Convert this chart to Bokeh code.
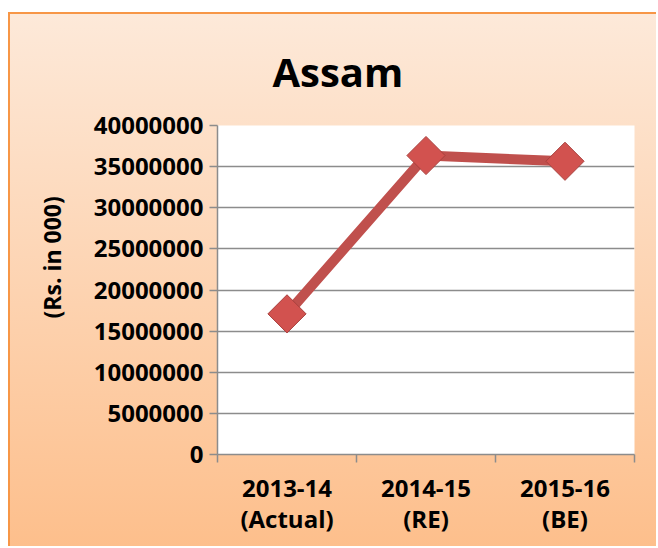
import math
from bokeh.plotting import figure
from bokeh.models import Range1d, FixedTicker, SingleIntervalTicker, NumeralTickFormatter, Title
from bokeh.embed import file_html
from bokeh.resources import INLINE

# ---- data ----
categories = ["2013-14\n(Actual)", "2014-15\n(RE)", "2015-16\n(BE)"]
values = [17100000, 36350000, 35650000]
title_text = "Assam"
y_title = "(Rs. in 000)"

xs = [i + 0.5 for i in range(len(categories))]

FONT = "Open Sans"
GRID = "#8c8c8c"

p = figure(width=648, height=534, output_backend="svg", toolbar_location=None,
           x_range=Range1d(0, len(categories)), y_range=Range1d(0, 40000000),
           min_border_left=205, min_border_right=24, min_border_top=111, min_border_bottom=94)
p.title.text = title_text
p.title.align = "left"
p.title.offset = 55
p.title.standoff = 54
p.title.text_font = FONT
p.title.text_font_style = "bold"
p.title.text_font_size = "40px"
p.title.text_color = "black"

p.border_fill_alpha = 0
p.background_fill_color = "white"
p.outline_line_color = None
p.styles = {
    "margin-top": "12px",
    "margin-left": "8px",
    "border-top": "2px solid #f79646",
    "border-left": "2px solid #f79646",
    "background": "linear-gradient(to bottom, #FDE9D9 0%, #FDBF8C 100%)",
}

# y axis
yax = p.yaxis[0]
yax.ticker = SingleIntervalTicker(interval=5000000, num_minor_ticks=0)
yax.formatter = NumeralTickFormatter(format="0")
yax.major_label_text_font = FONT
yax.major_label_text_font_style = "bold"
yax.major_label_text_font_size = "24px"
yax.major_label_text_color = "black"
yax.axis_line_color = GRID
yax.axis_line_width = 1.5
yax.major_tick_line_color = GRID
yax.major_tick_line_width = 1.5
yax.major_tick_in = 0
yax.major_tick_out = 8
yax.minor_tick_line_color = None
yax.major_label_standoff = 6

p.ygrid.grid_line_color = GRID
p.ygrid.grid_line_width = 1.5
p.ygrid.ticker = yax.ticker
p.xgrid.visible = False

# x axis
xax = p.xaxis[0]
xax.ticker = FixedTicker(ticks=xs, minor_ticks=list(range(len(categories) + 1)))
xax.major_label_overrides = {x: c for x, c in zip(xs, categories)}
xax.major_label_text_font = FONT
xax.major_label_text_font_style = "bold"
xax.major_label_text_font_size = "24px"
xax.major_label_text_color = "black"
xax.major_label_text_line_height = 0.95
xax.axis_line_color = GRID
xax.axis_line_width = 1.5
xax.major_tick_line_color = None
xax.major_tick_in = 0
xax.major_tick_out = 0
xax.minor_tick_line_color = GRID
xax.minor_tick_line_width = 1.5
xax.minor_tick_in = 0
xax.minor_tick_out = 8
xax.major_label_standoff = 8

# y axis title
p.add_layout(Title(text=y_title, align="left", offset=136, standoff=46,
                   text_font=FONT, text_font_style="bold", text_font_size="23px",
                   text_color="black"), "left")

# series
p.line(xs, values, line_width=10, line_color="#C0504D")
p.scatter(xs, values, marker="square", angle=math.pi / 4, size=27,
          fill_color="#D2524F", line_color="#A8403D", line_width=1)

open("out.html", "w").write(file_html(p, INLINE))
